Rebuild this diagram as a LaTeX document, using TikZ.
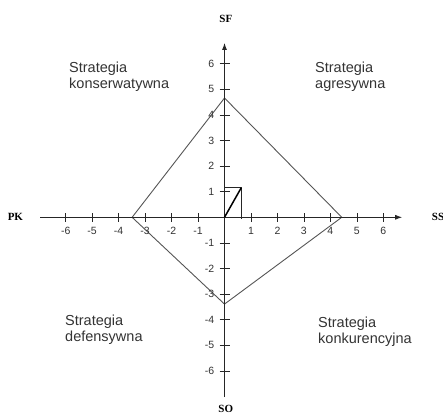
\documentclass[tikz,border=0pt]{standalone}
\usepackage{fontspec}
\setmainfont{Liberation Sans}
\newfontfamily\serifbold{Liberation Serif}
\usetikzlibrary{arrows.meta}
\definecolor{inkgray}{HTML}{333333}
\definecolor{diagray}{HTML}{555555}
\tikzset{
  axisline/.style={draw=black!85, line width=0.8pt, -{Latex[length=7pt,width=5pt]}},
  tickmark/.style={draw=black!85, line width=0.7pt},
  ticklbl/.style={font=\fontsize{10.5}{12}\selectfont, text=inkgray, inner sep=0pt},
  axislbl/.style={font=\serifbold\bfseries\fontsize{11}{12}\selectfont, inner sep=0pt},
  quadtxt/.style={font=\fontsize{14.5}{15.4}\selectfont, text=inkgray, align=left, inner sep=0pt, anchor=base west},
  diamondline/.style={draw=diagray, line width=0.9pt},
  vecline/.style={draw=black, line width=1.5pt},
  helperline/.style={draw=black!85, line width=1pt}
}
\begin{document}
\begin{tikzpicture}
\useasboundingbox (0pt,0pt) rectangle (443pt,416pt);
\begin{scope}[shift={(224.5pt,198.7pt)}, x=26.47pt, y=25.6pt]
  % axis end points
  \coordinate (xl) at (-6.97,0);
  \coordinate (xr) at (6.71,0);
  \coordinate (yb) at (0,-7.02);
  \coordinate (yt) at (0,6.81);
  \coordinate (O) at (0,0);
  % diamond vertices
  \coordinate (dT) at (0,4.66);
  \coordinate (dR) at (4.43,0);
  \coordinate (dB) at (0,-3.39);
  \coordinate (dL) at (-3.49,0);
  % vector
  \coordinate (vP) at (0.63,1.15);
  \coordinate (vY) at (0,1.15);
  \coordinate (vX) at (0.63,-0.05);

  \draw[diamondline] (dT) -- (dR) -- (dB) -- (dL) -- cycle;

  \draw[axisline] (xl) -- (xr);
  \draw[axisline] (yb) -- (yt);

  \foreach \i in {-6,-5,-4,-3,-2,-1,1,2,3,4,5,6} {
    \coordinate (xt\i) at (\i,0);
    \draw[tickmark] ([yshift=-4.5pt]xt\i) -- ([yshift=4.5pt]xt\i);
    \node[ticklbl] (xl\i) at ([yshift=-14pt]xt\i) {\i};
    \coordinate (yt\i) at (0,\i);
    \draw[tickmark] ([xshift=-5pt]yt\i) -- ([xshift=5pt]yt\i);
    \node[ticklbl, anchor=east] (yl\i) at ([xshift=-10pt]yt\i) {\i};
  }

  \draw[helperline] (vY) -- (vP) -- (vX);
  \draw[vecline] (O) -- (vP);

  \node[axislbl] (PK) at (-7.90,0) {PK};
  \node[axislbl, anchor=west] (SS) at (7.83,0) {SS};
  \node[axislbl] (SF) at (0.05,7.75) {SF};
  \node[axislbl] (SO) at (0.05,-7.50) {SO};
\end{scope}

\node[quadtxt] (qKons) at (69pt,327.7pt) {Strategia\\konserwatywna};
\node[quadtxt] (qAgr) at (315pt,327.7pt) {Strategia\\agresywna};
\node[quadtxt] (qDef) at (65pt,75pt) {Strategia\\defensywna};
\node[quadtxt] (qKonk) at (318pt,72.7pt) {Strategia\\konkurencyjna};
\end{tikzpicture}
\end{document}
